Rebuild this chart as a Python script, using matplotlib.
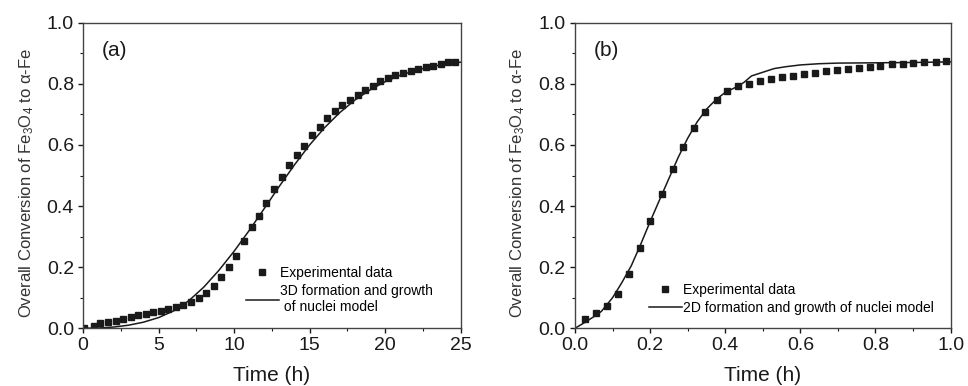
import matplotlib
matplotlib.use("Agg")
import matplotlib.pyplot as plt
from matplotlib.ticker import MultipleLocator

plt.rcParams['font.family'] = ['Liberation Sans', 'DejaVu Sans']
plt.rcParams['mathtext.fontset'] = 'custom'
plt.rcParams['mathtext.rm'] = 'Liberation Sans'
plt.rcParams['mathtext.default'] = 'regular'

# panel (a): 3D model, time in hours
time_a = [0.05, 0.71, 1.15, 1.66, 2.16, 2.67, 3.16, 3.64, 4.15, 4.66, 5.15,
          5.65, 6.16, 6.64, 7.15, 7.66, 8.17, 8.65, 9.16, 9.67, 10.16, 10.66,
          11.17, 11.66, 12.14, 12.67, 13.16, 13.66, 14.17, 14.66, 15.17, 15.68,
          16.16, 16.67, 17.16, 17.69, 18.18, 18.69, 19.17, 19.68, 20.19, 20.68,
          21.18, 21.69, 22.17, 22.68, 23.19, 23.68, 24.19, 24.63]
conv_a = [0.002, 0.008, 0.016, 0.021, 0.025, 0.031, 0.037, 0.043, 0.048, 0.052,
          0.057, 0.064, 0.071, 0.077, 0.087, 0.098, 0.115, 0.138, 0.168, 0.201,
          0.238, 0.285, 0.330, 0.369, 0.411, 0.455, 0.494, 0.533, 0.567, 0.597,
          0.634, 0.658, 0.687, 0.712, 0.732, 0.747, 0.763, 0.779, 0.794, 0.808,
          0.818, 0.828, 0.835, 0.843, 0.849, 0.856, 0.860, 0.866, 0.870, 0.872]
model_t_a = [0, 1, 2, 3, 4, 5, 6, 7, 8, 9, 10, 11, 12, 13, 14, 15, 16, 17, 18,
             19, 20, 21, 22, 23, 24, 25]
model_a = [0, 0.001, 0.004, 0.010, 0.020, 0.035, 0.057, 0.090, 0.135, 0.190,
           0.252, 0.320, 0.392, 0.465, 0.535, 0.600, 0.657, 0.706, 0.747, 0.780,
           0.807, 0.828, 0.844, 0.856, 0.865, 0.871]

# panel (b): 2D model
time_b = [0.027, 0.056, 0.084, 0.114, 0.143, 0.172, 0.201, 0.231, 0.260, 0.288,
          0.318, 0.347, 0.377, 0.406, 0.435, 0.464, 0.493, 0.522, 0.551, 0.581,
          0.610, 0.640, 0.668, 0.698, 0.726, 0.755, 0.785, 0.813, 0.844, 0.872,
          0.901, 0.930, 0.960, 0.989]
conv_b = [0.029, 0.051, 0.074, 0.112, 0.178, 0.262, 0.351, 0.438, 0.520, 0.593,
          0.656, 0.708, 0.746, 0.776, 0.792, 0.800, 0.809, 0.815, 0.821, 0.827,
          0.831, 0.836, 0.841, 0.845, 0.848, 0.853, 0.855, 0.859, 0.864, 0.866,
          0.868, 0.870, 0.872, 0.875]
model_t_b = [0, 0.03, 0.05, 0.07, 0.10, 0.125, 0.15, 0.175, 0.20, 0.225, 0.25,
             0.275, 0.30, 0.325, 0.35, 0.375, 0.40, 0.43, 0.45, 0.47, 0.50, 0.53,
             0.56, 0.60, 0.65, 0.70, 0.80, 0.90, 1.0]
model_b = [0, 0.022, 0.038, 0.055, 0.100, 0.150, 0.205, 0.275, 0.349, 0.420,
           0.490, 0.560, 0.622, 0.675, 0.717, 0.748, 0.772, 0.790, 0.805, 0.826,
           0.838, 0.850, 0.856, 0.862, 0.866, 0.868, 0.869, 0.870, 0.872]

ylab = 'Overall Conversion of Fe$_3$O$_4$ to α-Fe'
ink = '#1a1a1a'

fig = plt.figure(figsize=(9.68, 3.86), dpi=100)
ax1 = fig.add_axes([0.0858, 0.1495, 0.390, 0.7915])
ax2 = fig.add_axes([0.594, 0.1495, 0.388, 0.7915])


def style(ax, xmax, xmaj, xmin):
    ax.set_xlim(0, xmax)
    ax.set_ylim(0, 1.0)
    ax.xaxis.set_major_locator(MultipleLocator(xmaj))
    ax.xaxis.set_minor_locator(MultipleLocator(xmin))
    ax.yaxis.set_major_locator(MultipleLocator(0.2))
    ax.yaxis.set_minor_locator(MultipleLocator(0.1))
    ax.tick_params(which='major', direction='out', length=3.6, width=1,
                   labelsize=14, colors=ink, pad=3)
    ax.tick_params(which='minor', direction='out', length=2.2, width=0.8,
                   colors=ink)
    for s in ax.spines.values():
        s.set_color('#444444')
        s.set_linewidth(1.0)
    ax.set_xlabel('Time (h)', fontsize=15, color=ink, labelpad=8)
    ax.set_ylabel(ylab, fontsize=12, color='#333333', labelpad=8)
    ax.yaxis.label.set_y(0.475)


ax1.plot(time_a, conv_a, 's', color=ink, ms=5, label='Experimental data')
ax1.plot(model_t_a, model_a, '-', color=ink, lw=1.1,
         label='3D formation and growth\n of nuclei model')
style(ax1, 25, 5, 2.5)
ax1.yaxis.set_major_formatter(plt.FormatStrFormatter('%.1f'))
ax1.text(0.05, 0.89, '(a)', transform=ax1.transAxes, fontsize=15, color=ink)
ax1.legend(loc='lower left', bbox_to_anchor=(0.405, 0.015), frameon=False,
           fontsize=10, handlelength=2.4, handletextpad=0.1,
           labelspacing=0.3, borderpad=0.2)

ax2.plot(time_b, conv_b, 's', color=ink, ms=5, label='Experimental data')
ax2.plot(model_t_b, model_b, '-', color=ink, lw=1.1,
         label='2D formation and growth of nuclei model')
style(ax2, 1.0, 0.2, 0.1)
ax2.xaxis.set_major_formatter(plt.FormatStrFormatter('%.1f'))
ax2.yaxis.set_major_formatter(plt.FormatStrFormatter('%.1f'))
ax2.text(0.05, 0.89, '(b)', transform=ax2.transAxes, fontsize=15, color=ink)
ax2.legend(loc='lower left', bbox_to_anchor=(0.17, 0.012), frameon=False,
           fontsize=10, handlelength=2.4, handletextpad=0.1,
           labelspacing=0.3, borderpad=0.2)

fig.savefig('out.png', dpi=100)
